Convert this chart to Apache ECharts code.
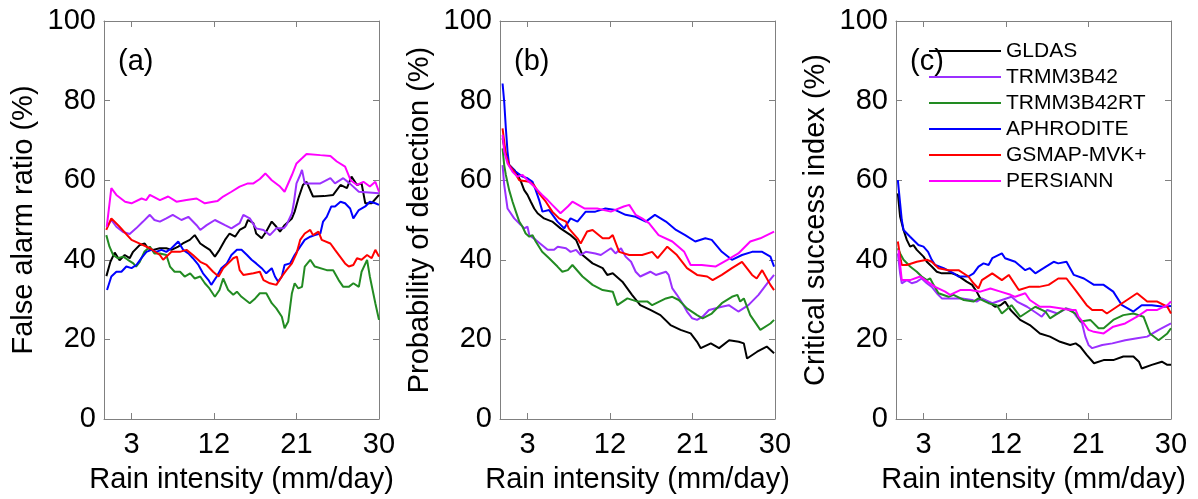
<!DOCTYPE html>
<html>
<head>
<meta charset="utf-8">
<script src="https://cdn.jsdelivr.net/npm/echarts@6/dist/echarts.min.js"></script>
<style>
  html, body { margin: 0; padding: 0; background: #fff; }
  #chart { width: 1198px; height: 499px; }
</style>
</head>
<body>
<div id="chart"></div>
<script>
// ============================================================
// Data: [rain intensity (mm/day), score (%)] per product
// ============================================================

var X_TICKS = [3, 12, 21, 30];
var PRODUCTS = ['GLDAS', 'TRMM3B42', 'TRMM3B42RT', 'APHRODITE', 'GSMAP-MVK+', 'PERSIANN'];
var COLORS = ['#000000', '#9b30ff', '#228b22', '#0000ff', '#ff0000', '#ff00ff'];

// (a) False alarm ratio
var FAR_GLDAS = [[0.26,35.9],[0.7,39.5],[1.17,41.8],[1.7,39.9],[2.26,41.2],[2.8,40.4],[3.17,42],[3.9,43.7],[4.44,44.1],[4.8,42.9],[5.36,42.5],[6.08,42.9],[6.8,42.9],[7.36,42.5],[8.1,43.3],[8.6,44.1],[9.36,45],[9.9,46.2],[10.5,44.1],[11,43.3],[11.55,42.5],[12.1,40.8],[12.6,42.5],[13.2,45],[13.7,46.6],[14.3,45.8],[14.8,47.5],[15.4,48.3],[15.7,50],[16.3,49.2],[16.6,46.6],[17.2,45.4],[17.7,47.1],[18.3,49.6],[18.8,48.3],[19.2,47.1],[19.7,48.7],[20.5,50.4],[20.8,52.1],[21.2,55.4],[21.7,58.8],[22.1,59.6],[22.8,55.9],[24,56],[25,56.3],[25.8,58.8],[26.5,58],[27,60.9],[27.6,58.8],[28.1,59.2],[28.5,54.2],[29.2,54.2],[30,56.3]];
var FAR_TRMM = [[0.33,48.2],[0.8,50],[1.35,48.3],[2.08,47],[2.8,46.5],[3.5,47.9],[4.26,49.6],[5,51.3],[5.5,50],[6.1,49.6],[6.8,50.4],[7.5,51.3],[8.45,50],[9.2,50.8],[10.1,48.7],[10.5,47.5],[11.2,48.7],[12.1,50],[13.2,48.7],[13.9,47.9],[14.8,49.2],[15.2,51.3],[15.9,50.4],[16.6,47.9],[17.4,47.5],[18.1,46.2],[18.8,47.9],[19.6,47.9],[19.9,48.7],[20.5,51.7],[20.7,54.2],[21,59.2],[21.4,61.3],[21.6,62.6],[21.9,59.2],[23.6,59.2],[24.7,60.5],[25.2,59.2],[26.1,60.5],[26.8,59.2],[27.8,57.1],[30,56.7]];
var FAR_TRMMRT = [[0.25,46.2],[0.6,43.3],[1,41.2],[1.5,40.4],[2.1,40.8],[2.6,40],[3.2,39.1],[3.5,38.3],[3.9,39.5],[4.4,42],[5,43.3],[5.5,41.6],[6.1,41.6],[6.8,41.2],[7.2,38.3],[7.7,37],[8.3,37],[8.8,35.8],[9.4,36.6],[9.9,35.3],[10.5,35.8],[11,34.1],[11.5,32.8],[12.1,30.7],[12.6,32.4],[13,35.3],[13.55,32.4],[14.1,31.2],[14.5,32],[15,30.7],[15.9,29.1],[16.5,30.3],[17,31.6],[17.7,31.6],[18.3,29.1],[18.8,27.8],[19.4,25.7],[19.7,22.8],[20.1,24.5],[20.5,31.6],[20.8,34.1],[21.2,32.8],[21.6,33.2],[21.9,38.3],[22.5,40],[23,38.3],[24.3,37.4],[25,37.4],[25.6,34.9],[26.1,33.2],[26.7,33.2],[27.2,34.1],[27.8,33.2],[28.1,37],[28.7,40],[29,35.8],[29.6,29.1],[30,24.9]];
var FAR_APHRO = [[0.33,32.4],[0.8,35.8],[1.35,37],[1.9,37],[2.44,38.3],[3,37.9],[3.53,38.7],[4.08,40.4],[4.63,42],[5.17,42.5],[5.7,42],[6.27,42.5],[6.8,42],[7.36,42.9],[8.1,44.6],[8.63,42.5],[9.2,41.6],[9.7,40.4],[10.3,38.7],[10.8,36.6],[11.4,34.9],[11.7,33.7],[12.3,35.8],[12.8,37.9],[13.4,39.1],[13.9,41.2],[14.5,42.5],[15,42.5],[15.6,41.2],[16.1,40],[16.6,39.1],[17.2,37.9],[17.7,36.6],[18.3,37.9],[18.65,35.8],[19,34.5],[19.4,35.8],[19.7,38.7],[20.3,39.1],[20.8,41.2],[21.4,43.3],[21.9,45],[22.5,45.8],[23,46.2],[23.6,46.6],[23.9,49.6],[24.3,50.8],[24.8,53.4],[25.2,53.4],[25.8,54.6],[26.3,54.2],[26.85,52.9],[27.2,50.4],[27.8,52.5],[28.5,53.4],[29,54.6],[29.6,54.2],[30,53.8]];
var FAR_GSMAP = [[0.25,47.5],[0.8,50.4],[1.7,48.3],[3,45],[4.26,43.7],[5,42.9],[6.1,41.2],[6.45,40],[7.36,42],[8.27,42],[9,42.5],[9.7,41.2],[10.5,39.5],[11.2,38.7],[11.9,37],[12.5,35.8],[13,37.9],[13.55,39.1],[14.1,40.4],[14.5,40.8],[14.8,37.4],[15.2,36.2],[16.3,36.6],[17,37],[17.4,34.9],[18.1,34.1],[18.8,33.7],[19.4,35.8],[19.9,37.4],[20.5,39.1],[21,41.6],[21.4,45],[21.9,46.6],[22.5,47.5],[22.8,46.2],[23.4,47.1],[23.75,45],[24.7,44.1],[25.2,42.5],[25.75,40.8],[26.3,39.1],[26.7,38.3],[27.2,38.7],[27.6,40.4],[28.1,40],[28.7,41.2],[29.2,40.4],[29.6,42.5],[30,40.8]];
var FAR_PERSIANN = [[0.3,48.3],[0.8,58],[1.35,56.3],[2.3,54.6],[3,54.2],[4.1,55.4],[4.6,55],[5,56.3],[6.1,55],[7,55.9],[7.9,54.6],[9,55],[10.1,55.4],[11,54.2],[11.9,54.6],[12.4,54.8],[13,55.9],[13.9,57.1],[14.8,58.4],[15.7,59.2],[16.3,59.2],[17,60.3],[17.6,61.7],[18.3,60],[19.2,58.4],[19.7,57.1],[20.5,61.3],[21,64.2],[21.6,65.5],[22.1,66.6],[23.6,66.3],[24.7,66.1],[25.4,64.7],[26.3,63.4],[26.9,60],[27.6,58.8],[28.3,59.6],[29,58.4],[29.6,59.6],[30,57.1]];

// (b) Probability of detection
var POD_GLDAS = [[0.28,70.5],[0.64,66.3],[1,63.8],[1.55,62.6],[1.9,61.3],[2.3,59.6],[2.64,57.5],[3,56.3],[3.36,54.6],[3.73,52.9],[4.1,51.7],[4.8,50.4],[5.7,49.6],[6.6,47.9],[7.7,46.2],[8.3,45],[9,41.2],[10.1,39.1],[11.2,37.9],[11.7,36.2],[12.3,36.6],[13.35,34.5],[14.4,31.2],[15.3,28.6],[16.4,27.4],[17.5,26.1],[18.6,23.6],[19.7,22.4],[20.8,21.5],[21.5,19.4],[21.9,17.8],[23,19],[23.9,17.8],[25,19.8],[26.05,19.4],[26.6,19],[26.95,15.2],[28.05,16.9],[29.1,18.2],[29.9,16.5]];
var POD_TRMM = [[0.28,63.8],[0.46,58.8],[0.82,52.9],[1.55,50.4],[2.3,48.7],[2.64,47.9],[3,48.3],[3.2,46.2],[3.9,45],[4.8,43.3],[5.2,42.5],[5.9,42.5],[6.3,43.3],[7.2,42.9],[7.7,42],[8.3,42.5],[8.8,41.2],[9.35,42],[10.4,41.6],[11,41.2],[12.1,42.9],[12.6,41.6],[13.2,42.9],[13.7,40.8],[14.3,39.5],[14.8,37],[15.3,35.8],[16.4,37],[17,36.2],[18.1,37],[18.4,36.2],[18.8,32.8],[19.3,31.2],[19.9,29.1],[20.4,27],[20.97,25.3],[21.5,24.9],[22.1,25.7],[22.8,27.4],[24.2,28.2],[24.96,28.6],[26,27],[27.1,28.6],[28.2,31.2],[29.3,34.5],[29.9,36.2]];
var POD_TRMMRT = [[0.28,68],[0.46,63.8],[0.64,61.3],[1,57.5],[1.37,54.6],[1.73,52.1],[2.1,49.6],[2.46,48.3],[2.8,46.6],[3.2,45.8],[3.55,46.2],[3.9,44.6],[4.6,42],[5.36,40.4],[6.27,38.3],[6.8,37],[7.4,37.4],[7.9,38.7],[9,35.8],[10.1,33.7],[11.2,32.4],[12.3,32],[12.8,28.6],[13.9,30.3],[15,29.5],[16.1,29.5],[16.6,28.6],[18.1,30.3],[18.8,30.7],[19.5,29.9],[20.4,27.8],[21.5,26.1],[22.1,25.3],[23.1,26.5],[24.2,29.1],[25.3,30.7],[25.9,31.2],[26.2,29.5],[26.6,30.3],[27.3,26.1],[28.4,22.4],[29.5,24],[29.9,24.9]];
var POD_APHRO = [[0.28,84.3],[0.46,79.7],[0.64,73],[0.82,67.2],[1,63.8],[1.73,62.1],[2.46,60.9],[3,60.5],[3.55,59.6],[3.9,57.5],[4.27,55],[4.63,52.1],[5.36,52.5],[6.27,49.6],[7,47.9],[7.7,50.4],[8.45,49.6],[9.35,52.1],[10.4,52.1],[11.5,52.9],[12.6,52.5],[13.7,51.3],[14.8,50.8],[15.9,49.6],[16.9,51.3],[18.1,49.6],[19.2,47.5],[20.2,46.2],[21.3,44.6],[22.4,45.4],[23.1,45],[24.2,42],[25.3,40],[26.4,41.2],[27.5,42],[28.6,42],[29.5,40.8],[29.9,38.3]];
var POD_GSMAP = [[0.28,73],[0.64,66.3],[1,63.8],[1.55,62.1],[2.1,60],[3.2,59.6],[3.7,58.8],[4.27,56.7],[5,54.6],[5.7,52.1],[6.45,50.4],[7.2,49.6],[7.5,47.9],[8.45,45.4],[8.8,44.1],[9.5,47.1],[10.1,47.5],[11.2,45.4],[11.9,45.4],[12.3,46.2],[13,42],[14.1,41.2],[15.5,41.2],[16.6,42],[17.2,40.4],[18.25,43.3],[19.3,41.2],[20.4,37.9],[21.5,36.2],[22.6,35.8],[23.2,34.9],[24.2,36.2],[25.3,37.9],[26.4,39.5],[27.5,36.2],[28,35.3],[28.6,37.4],[29.5,33.7],[29.9,32.4]];
var POD_PERSIANN = [[0.28,71.4],[0.46,67.2],[0.82,64.2],[1.37,62.1],[1.9,60.9],[2.46,61.3],[3,60],[3.55,58.8],[4.1,57.5],[4.6,56.3],[5.2,55],[5.7,53.8],[6.6,51.7],[7.4,53.4],[7.9,54.6],[9.2,52.9],[10.6,52.9],[12.1,52.1],[13.5,53.4],[14.1,53.8],[14.8,51.3],[15.5,50.4],[16.25,49.2],[17.3,46.2],[18.8,44.6],[20.1,42],[20.8,38.7],[22,38.7],[23.5,38.3],[24.8,40],[26,41.6],[27.3,44.6],[28.4,45.4],[29.9,47.1]];

// (c) Critical success index
var CSI_GLDAS = [[0.2,56.7],[0.45,50.8],[0.82,47.5],[1.18,45],[1.54,43.3],[1.9,43.7],[2.27,42.5],[3,40.8],[3.36,39.5],[3.9,38.3],[4.45,37],[5,36.6],[6.09,36.6],[6.64,36.2],[7.7,34.5],[8.3,33.7],[8.8,32],[9.2,30.3],[10.3,29.1],[10.8,28.2],[11.4,28.6],[11.9,29.5],[12.5,27.4],[13.55,24.9],[14.6,23.6],[15.7,21.5],[16.8,20.7],[17.9,19.4],[19,18.6],[19.6,19],[20.1,18.2],[20.8,16.1],[21.6,14],[22.65,14.8],[23.7,14.8],[24.8,15.7],[25.9,15.7],[26.5,14.4],[26.8,12.7],[27.9,13.6],[29,14.4],[29.6,13.6],[30,13.6]];
var CSI_TRMM = [[0.2,41.6],[0.45,36.6],[0.63,34.1],[1.18,34.9],[1.72,34.1],[2.27,34.5],[2.8,35.3],[3.36,34.1],[3.9,33.2],[4.45,31.6],[5,30.3],[6.09,30.3],[7.2,30.3],[8.3,29.9],[8.8,29.5],[9.37,30.3],[10.5,29.1],[11.55,29.9],[12.6,30.7],[13.2,29.5],[14.3,28.2],[15.4,26.5],[15.9,25.7],[16.5,27.4],[17.6,26.5],[18.6,27.8],[19.2,27.4],[19.7,25.7],[20.3,24],[20.65,20.7],[21,18.6],[21.4,17.8],[22.5,18.6],[23.6,19],[25,19.8],[26.3,20.3],[27.4,20.7],[28.65,22.4],[30,24]];
var CSI_TRMMRT = [[0.2,42.9],[0.45,41.6],[0.82,40],[1.54,38.3],[2.27,37],[2.8,35.8],[3.36,34.9],[3.73,35.3],[4.1,33.7],[4.64,31.6],[5.73,30.7],[6.27,31.2],[7.4,29.9],[8.46,29.5],[9,30.3],[10.1,29.1],[11,28.6],[11.55,26.5],[12.6,28.6],[13.55,25.7],[15.2,28.2],[16.3,27],[16.8,25.3],[18.5,27.8],[19.6,26.5],[20.1,24.5],[21.2,24.9],[22.1,22.8],[22.65,22.8],[23.7,24.9],[24.8,26.1],[25.9,26.5],[27,25.7],[27.7,21.5],[28.65,19.8],[29.6,21.5],[30,22.8]];
var CSI_APHRO = [[0.2,60],[0.45,54.2],[0.63,50],[0.82,47.5],[1.54,45.8],[2.45,43.7],[3,43.3],[3.5,42],[3.9,40],[4.27,38.7],[5.2,37.9],[6.3,36.6],[6.8,35.8],[7.9,35.8],[8.46,36.6],[9,38.3],[9.55,39.1],[10.1,38.7],[10.5,40.4],[11.55,41.6],[11.9,40.4],[13,39.5],[14.1,37.4],[14.6,37.9],[15.2,36.6],[16.1,37.9],[17.2,39.5],[17.7,39.1],[18.6,39.5],[19.4,36.2],[20.5,35.3],[21.6,33.7],[22.65,33.7],[23.7,32],[24.65,28.6],[25.9,27],[26.8,28.6],[27.9,28.6],[29.2,28.2],[30,28.4]];
var CSI_GSMAP = [[0.2,44.6],[0.45,40.8],[0.63,38.7],[1.18,38.7],[2.27,39.5],[3.36,40],[3.9,39.5],[4.64,37.9],[5.73,37.4],[6.82,37.4],[7.9,35.8],[8.46,34.1],[9,32.8],[9.37,34.9],[10.5,36.6],[11.55,34.9],[12.3,36.2],[13.4,32.4],[14.5,33.2],[15.6,33.2],[16.65,33.7],[17.7,35.3],[18.6,35.3],[19.7,32],[20.8,28.6],[21.4,27.4],[22.5,27.4],[23,26.5],[24.1,28.2],[25.2,29.9],[26.3,31.6],[27.4,29.5],[28.5,29.5],[29.6,28.2],[30,26.5]];
var CSI_PERSIANN = [[0.27,42.5],[0.63,34.9],[1.54,34.9],[2.64,35.8],[3.18,34.9],[4.27,33.2],[5.36,32],[5.9,31.2],[7,32.4],[8.1,32.4],[9.2,32],[10.3,32.8],[11.4,32],[12.5,31.2],[13,30.7],[14.1,31.6],[14.6,29.9],[15.7,28.2],[16.8,28.2],[17.9,27.8],[19,27.4],[19.6,27.4],[19.9,25.7],[20.5,24],[21,22.4],[21.6,21.9],[22.65,21.5],[23.7,23.2],[25,24],[26.3,25.7],[27.4,27.4],[28.5,27.4],[29.6,28.6],[30,29.5]];

var PANELS = [
  {tag: '(a)', yName: 'False alarm ratio (%)', left: 104, values: [FAR_GLDAS, FAR_TRMM, FAR_TRMMRT, FAR_APHRO, FAR_GSMAP, FAR_PERSIANN]},
  {tag: '(b)', yName: 'Probability of detection (%)', left: 500, values: [POD_GLDAS, POD_TRMM, POD_TRMMRT, POD_APHRO, POD_GSMAP, POD_PERSIANN]},
  {tag: '(c)', yName: 'Critical success index (%)', left: 896, values: [CSI_GLDAS, CSI_TRMM, CSI_TRMMRT, CSI_APHRO, CSI_GSMAP, CSI_PERSIANN]},
];

// ============================================================
// Chart options
// ============================================================

var FONT = '"Liberation Sans", Arial, sans-serif';
var FONT_SIZE = 29;
var BOX_COLOR = '#808080';
var PLOT_TOP = 21;
var PLOT_W = 275;
var PLOT_H = 398;

var grids = [];
var xAxes = [];
var yAxes = [];
var series = [];
var graphics = [];

PANELS.forEach(function(panel, p) {
  grids.push({left: panel.left, top: PLOT_TOP, width: PLOT_W, height: PLOT_H, containLabel: false});

  var lineStyle = {show: true, onZero: false, lineStyle: {color: BOX_COLOR, width: 1}};
  var tickStyle = {show: true, inside: true, length: 6, lineStyle: {color: BOX_COLOR, width: 1}};
  var labelFont = {fontSize: FONT_SIZE, color: '#000', fontFamily: FONT};

  xAxes.push({
    type: 'value', gridIndex: p, position: 'bottom', min: 0, max: 30,
    axisLine: lineStyle,
    axisTick: Object.assign({customValues: X_TICKS}, tickStyle),
    axisLabel: Object.assign({customValues: X_TICKS, margin: 11}, labelFont),
    splitLine: {show: false},
    name: 'Rain intensity (mm/day)', nameLocation: 'middle', nameGap: 46,
    nameTextStyle: labelFont,
  });
  xAxes.push({
    type: 'value', gridIndex: p, position: 'top', min: 0, max: 30,
    axisLine: lineStyle,
    axisTick: Object.assign({customValues: X_TICKS}, tickStyle),
    axisLabel: {show: false},
    splitLine: {show: false},
  });
  yAxes.push({
    type: 'value', gridIndex: p, position: 'left', min: 0, max: 100, interval: 20,
    axisLine: lineStyle,
    axisTick: tickStyle,
    axisLabel: Object.assign({margin: 8}, labelFont),
    splitLine: {show: false},
    name: panel.yName, nameLocation: 'middle', nameGap: 66,
    nameTextStyle: labelFont,
  });
  yAxes.push({
    type: 'value', gridIndex: p, position: 'right', min: 0, max: 100, interval: 20,
    axisLine: lineStyle,
    axisTick: tickStyle,
    axisLabel: {show: false},
    splitLine: {show: false},
  });

  PRODUCTS.forEach(function(name, k) {
    series.push({
      name: name,
      type: 'line',
      xAxisIndex: p * 2,
      yAxisIndex: p * 2,
      data: panel.values[k],
      symbol: 'none',
      showSymbol: false,
      lineStyle: {color: COLORS[k], width: 2},
      itemStyle: {color: COLORS[k]},
      silent: true,
    });
  });

  graphics.push({
    type: 'text', left: panel.left + 14, top: 47,
    style: {text: panel.tag, fontSize: FONT_SIZE, fill: '#000', fontFamily: FONT},
  });
});

var chart = echarts.init(document.getElementById('chart'));
chart.setOption({
  animation: false,
  backgroundColor: '#fff',
  grid: grids,
  xAxis: xAxes,
  yAxis: yAxes,
  series: series,
  graphic: graphics,
  legend: {
    data: PRODUCTS,
    orient: 'vertical',
    left: 929, top: 38,
    padding: 0,
    icon: 'rect',
    itemWidth: 72, itemHeight: 2, itemGap: 0,
    textStyle: {fontSize: 21, color: '#000', fontFamily: FONT, lineHeight: 26},
  },
});
</script>
</body>
</html>
